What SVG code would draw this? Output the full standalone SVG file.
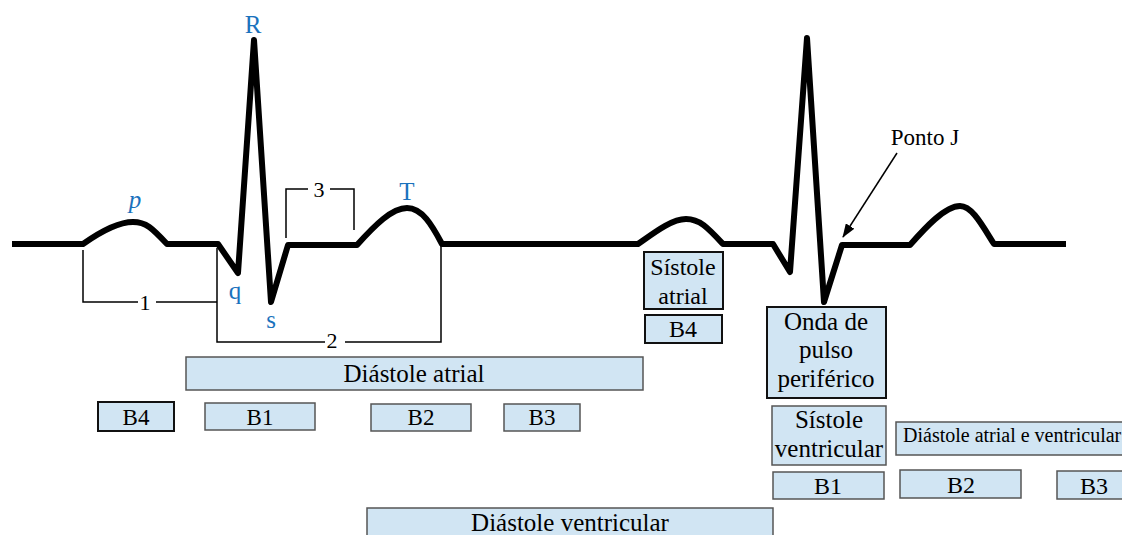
<svg xmlns="http://www.w3.org/2000/svg" width="1122" height="535" viewBox="0 0 1122 535">
<defs>
<style>
.ecg{fill:none;stroke:#000;stroke-width:6;stroke-linejoin:round;stroke-linecap:butt}
.thin{fill:none;stroke:#000;stroke-width:1.5}
.box{fill:#d1e5f3;stroke:#555;stroke-width:1.5}
.boxd{fill:#d1e5f3;stroke:#111;stroke-width:2}
.t{font-family:"Liberation Serif","Times New Roman",serif;fill:#000;text-anchor:middle}
.lbl{font-family:"Liberation Serif","Times New Roman",serif;fill:#1a72bd;text-anchor:middle;font-size:25px}
</style>
<marker id="ah" viewBox="0 0 14 10" refX="13" refY="5" markerWidth="14" markerHeight="10" markerUnits="userSpaceOnUse" orient="auto">
<path d="M0,0 L14,5 L0,10 z" fill="#000"/>
</marker>
</defs>
<rect width="1122" height="535" fill="#fff"/>
<g id="ecg">
<path class="ecg" d="M12,244 H83 C100,232 118,222 133,222 C146,222 152,228 167,244 H218 L238,273 L254,40 L271,302 L288,245 H357 C375,225 392,208 407,208 C422,208 432,225 442,244 H638 C655,232 672,219 686,219 C700,219 708,228 723,244 H773 L790,272 L807,38 L824,302 L842,245 H910 C925,228 945,206 960,206 C972,206 982,225 994,244 H1066"/>
</g>
<g id="wave-labels">
<text class="lbl" x="135" y="208" font-style="italic">p</text>
<text class="lbl" x="253" y="33">R</text>
<text class="lbl" x="235" y="299">q</text>
<text class="lbl" x="271" y="328">s</text>
<text class="lbl" x="407" y="200">T</text>
</g>
<g id="connectors">
<path class="thin" d="M83,250 V302 H138 M156,302 H217 M217,248 V342 H325 M345,342 H441 V245"/>
<path class="thin" d="M286,238 V189 H308 M330,189 H354 V230"/>
<line class="thin" x1="897" y1="153" x2="843" y2="237" marker-end="url(#ah)"/>
</g>
<g id="interval-labels">
<text class="t" x="145" y="310" font-size="22">1</text>
<text class="t" x="332" y="348" font-size="22">2</text>
<text class="t" x="319" y="197" font-size="22">3</text>
<text class="t" x="925" y="145" font-size="23">Ponto J</text>
</g>
<g id="diastole-atrial">
<rect class="box" x="186" y="357" width="457" height="33"/>
<text class="t" x="414" y="382" font-size="25">Diástole atrial</text>
</g>
<g id="b4-left">
<rect class="boxd" x="98" y="402" width="76" height="29"/>
<text class="t" x="136" y="425" font-size="23">B4</text>
</g>
<g id="b1-left">
<rect class="box" x="205" y="403" width="110" height="27"/>
<text class="t" x="260" y="425" font-size="23">B1</text>
</g>
<g id="b2-left">
<rect class="box" x="371" y="404" width="100" height="27"/>
<text class="t" x="421" y="425" font-size="23">B2</text>
</g>
<g id="b3-left">
<rect class="box" x="504" y="404" width="76" height="27"/>
<text class="t" x="542" y="425" font-size="23">B3</text>
</g>
<g id="diastole-ventricular">
<rect class="box" x="367" y="508" width="406" height="40"/>
<text class="t" x="570" y="531" font-size="25">Diástole ventricular</text>
</g>
<g id="sistole-atrial">
<rect class="boxd" x="644" y="252" width="79" height="57"/>
<text class="t" x="683" y="275" font-size="24">Sístole</text>
<text class="t" x="683" y="304" font-size="24">atrial</text>
</g>
<g id="b4-right">
<rect class="boxd" x="645" y="315" width="77" height="28"/>
<text class="t" x="683" y="337" font-size="24">B4</text>
</g>
<g id="onda-pulso">
<rect class="boxd" x="767" y="307" width="119" height="91"/>
<text class="t" x="826" y="330" font-size="25">Onda de</text>
<text class="t" x="826" y="358" font-size="25">pulso</text>
<text class="t" x="826" y="387" font-size="25">periférico</text>
</g>
<g id="sistole-ventricular">
<rect class="box" x="772" y="406" width="114" height="59"/>
<text class="t" x="829" y="428" font-size="25">Sístole</text>
<text class="t" x="829" y="457" font-size="25">ventricular</text>
</g>
<g id="diastole-atrial-ventricular">
<rect class="box" x="896" y="422" width="240" height="33"/>
<text class="t" x="903" y="442" font-size="20" style="text-anchor:start">Diástole atrial e ventricular</text>
</g>
<g id="b1-right">
<rect class="box" x="773" y="472" width="111" height="27"/>
<text class="t" x="828" y="494" font-size="24">B1</text>
</g>
<g id="b2-right">
<rect class="box" x="900" y="470" width="121" height="28"/>
<text class="t" x="961" y="493" font-size="24">B2</text>
</g>
<g id="b3-right">
<rect class="box" x="1057" y="471" width="70" height="28"/>
<text class="t" x="1094" y="494" font-size="24">B3</text>
</g>
</svg>
